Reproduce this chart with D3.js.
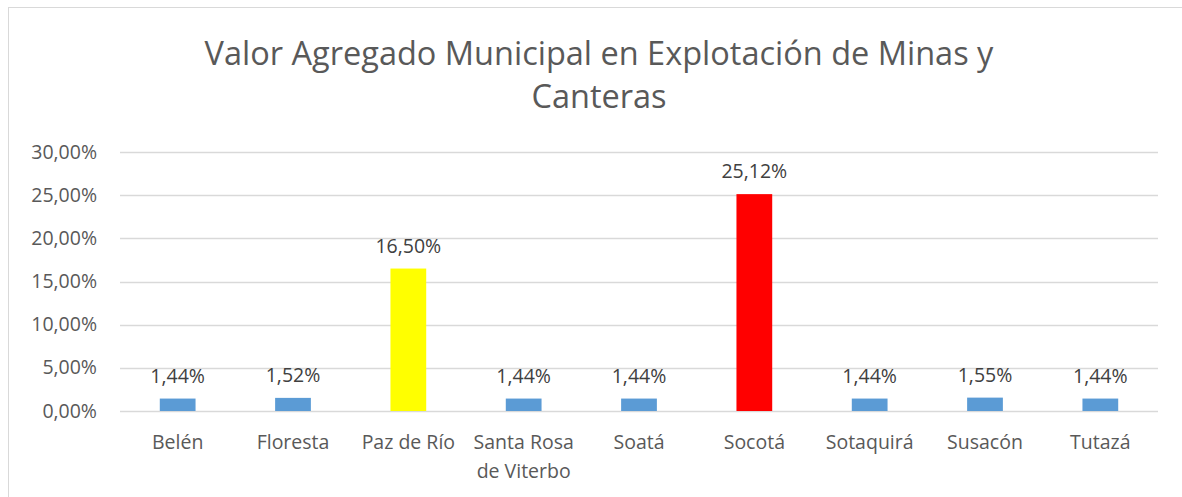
<!DOCTYPE html>
<html lang="es">
<head>
<meta charset="UTF-8">
<title>Valor Agregado Municipal</title>
<script src="https://d3js.org/d3.v7.min.js"></script>
<style>
  body { margin: 0; background: #fff; }
  text { font-family: "Open Sans", sans-serif; }
</style>
</head>
<body>
<script>
    // data
    const municipios = ["Belén", "Floresta", "Paz de Río", "Santa Rosa de Viterbo", "Soatá", "Socotá", "Sotaquirá", "Susacón", "Tutazá"];
    const valores = [1.44, 1.52, 16.50, 1.44, 1.44, 25.12, 1.44, 1.55, 1.44];
    const colores = ["#5B9BD5", "#5B9BD5", "#FFFF00", "#5B9BD5", "#5B9BD5", "#FF0000", "#5B9BD5", "#5B9BD5", "#5B9BD5"];
    const ticks = [0, 5, 10, 15, 20, 25, 30];
    const titulo = ["Valor Agregado Municipal en Explotación de Minas y", "Canteras"];

    const W = 1182, H = 497;
    const margin = { left: 120, right: 24, top: 152, bottom: 86 };

    const svg = d3.select("body").append("svg")
        .attr("width", W)
        .attr("height", H);

    // chart frame
    svg.append("rect")
        .attr("x", 8.5).attr("y", 7.5)
        .attr("width", W + 10).attr("height", H + 10)
        .attr("fill", "none")
        .attr("stroke", "#d9d9d9");

    const x = d3.scaleBand()
        .domain(municipios)
        .range([margin.left, W - margin.right])
        .paddingInner(0.69)
        .paddingOuter(0.345);

    const y = d3.scaleLinear()
        .domain([0, 30])
        .range([H - margin.bottom, margin.top]);

    const pct = d => d3.format(".2f")(d).replace(".", ",") + "%";

    // title
    svg.append("text")
        .attr("x", 599)
        .attr("y", 65)
        .attr("text-anchor", "middle")
        .attr("font-size", 32.5)
        .attr("fill", "#595959")
        .selectAll("tspan")
        .data(titulo)
        .join("tspan")
        .attr("x", 599)
        .attr("dy", (d, i) => i ? 43 : 0)
        .text(d => d);

    // gridlines
    svg.append("g")
        .selectAll("line")
        .data(ticks)
        .join("line")
        .attr("x1", margin.left)
        .attr("x2", W - margin.right)
        .attr("y1", d => Math.round(y(d)) + 0.5)
        .attr("y2", d => Math.round(y(d)) + 0.5)
        .attr("stroke", "#d9d9d9")
        .attr("stroke-width", 1.3);

    // y axis labels
    svg.append("g")
        .selectAll("text")
        .data(ticks)
        .join("text")
        .attr("x", 97)
        .attr("y", d => y(d) + 6.5)
        .attr("text-anchor", "end")
        .attr("font-size", 19.5)
        .attr("fill", "#595959")
        .text(pct);

    // bars
    svg.append("g")
        .selectAll("rect")
        .data(valores)
        .join("rect")
        .attr("x", (d, i) => x(municipios[i]))
        .attr("width", x.bandwidth())
        .attr("y", d => y(d))
        .attr("height", d => y(0) - y(d))
        .attr("fill", (d, i) => colores[i]);

    // data labels
    svg.append("g")
        .selectAll("text")
        .data(valores)
        .join("text")
        .attr("x", (d, i) => x(municipios[i]) + x.bandwidth() / 2)
        .attr("y", d => y(d) - 16)
        .attr("text-anchor", "middle")
        .attr("font-size", 19.5)
        .attr("fill", "#404040")
        .text(pct);

    // category labels, wrapped like the original
    const etiquetas = svg.append("g")
        .selectAll("text")
        .data(municipios)
        .join("text")
        .attr("text-anchor", "middle")
        .attr("font-size", 19.5)
        .attr("fill", "#595959");

    etiquetas.each(function (d) {
        const lineas = d === "Santa Rosa de Viterbo" ? ["Santa Rosa", "de Viterbo"] : [d];
        const cx = x(d) + x.bandwidth() / 2;
        d3.select(this).selectAll("tspan")
            .data(lineas)
            .join("tspan")
            .attr("x", cx)
            .attr("y", (t, i) => 449 + i * 29)
            .text(t => t);
    });
</script>
</body>
</html>
